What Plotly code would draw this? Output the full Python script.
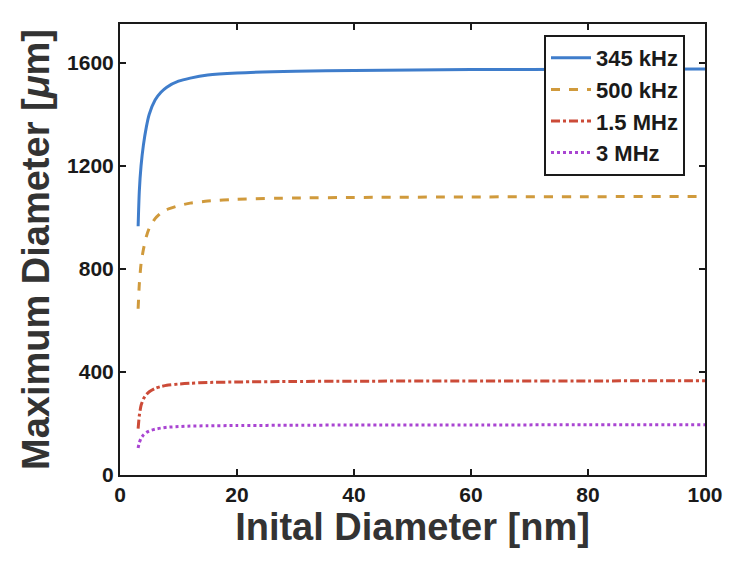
"""Maximum bubble diameter vs initial diameter."""

import plotly.graph_objects as go

x_nm = [3.1, 3.3, 3.6, 4, 4.5, 5, 6, 7, 8, 10, 12, 15, 20, 30, 40, 60, 80, 100]
d_345khz = [965, 1100, 1200, 1280, 1350, 1400, 1455, 1485, 1505, 1528, 1540, 1552, 1560, 1567, 1570, 1573, 1574, 1575]
d_500khz = [645, 740, 820, 875, 925, 958, 995, 1017, 1030, 1045, 1055, 1063, 1070, 1075, 1077, 1079, 1080, 1081]
d_1500khz = [180, 230, 270, 295, 312, 323, 336, 343, 348, 353, 356, 359, 361, 363, 364, 365, 365, 366]
d_3mhz = [105, 125, 143, 155, 165, 171, 178, 182, 185, 188, 190, 191, 192, 193, 194, 194, 195, 195]

series = [
    ("345 kHz", d_345khz, "#3f7dcb", "solid"),
    ("500 kHz", d_500khz, "#d09a3c", "dash"),
    ("1.5 MHz", d_1500khz, "#cc4b38", "dashdot"),
    ("3 MHz", d_3mhz, "#a945d2", "dot"),
]

fig = go.Figure()
for name, vals, color, dash in series:
    fig.add_trace(
        go.Scatter(
            x=x_nm,
            y=vals,
            mode="lines",
            name=name,
            line=dict(color=color, width=3, dash=dash, shape="spline", smoothing=0.6),
        )
    )

font = "Liberation Sans, Arial, sans-serif"
axis_common = dict(
    showgrid=False,
    zeroline=False,
    showline=True,
    linecolor="#1a1a1a",
    linewidth=2,
    mirror="ticks",
    ticks="inside",
    ticklen=6,
    tickwidth=2,
    tickcolor="#1a1a1a",
    tickfont=dict(family=font, size=21, color="#1a1a1a", weight="bold"),
)

fig.update_layout(
    width=746,
    height=568,
    margin=dict(l=112, r=49, t=16, b=101),
    paper_bgcolor="white",
    plot_bgcolor="white",
    font=dict(family=font, color="#1a1a1a"),
    xaxis=dict(
        range=[0, 100],
        tickvals=[0, 20, 40, 60, 80, 100],
        title=dict(
            text="<b>Inital Diameter [nm]</b>",
            font=dict(family=font, size=38, color="#333"),
            standoff=4,
        ),
        **axis_common,
    ),
    yaxis=dict(
        range=[0, 1750],
        tickvals=[0, 400, 800, 1200, 1600],
        title=dict(
            text="<b>Maximum Diameter [<i>μ</i>m]</b>",
            font=dict(family=font, size=38, color="#333"),
            standoff=6,
        ),
        **axis_common,
    ),
    legend=dict(
        x=(685 - 120) / 585,
        xanchor="right",
        y=(475 - 35) / 451,
        yanchor="top",
        bgcolor="white",
        bordercolor="#1a1a1a",
        borderwidth=2,
        font=dict(family=font, size=22, color="#1a1a1a", weight="bold"),
        itemwidth=40,
        tracegroupgap=0,
    ),
    showlegend=True,
)

fig.write_html("out.html")
